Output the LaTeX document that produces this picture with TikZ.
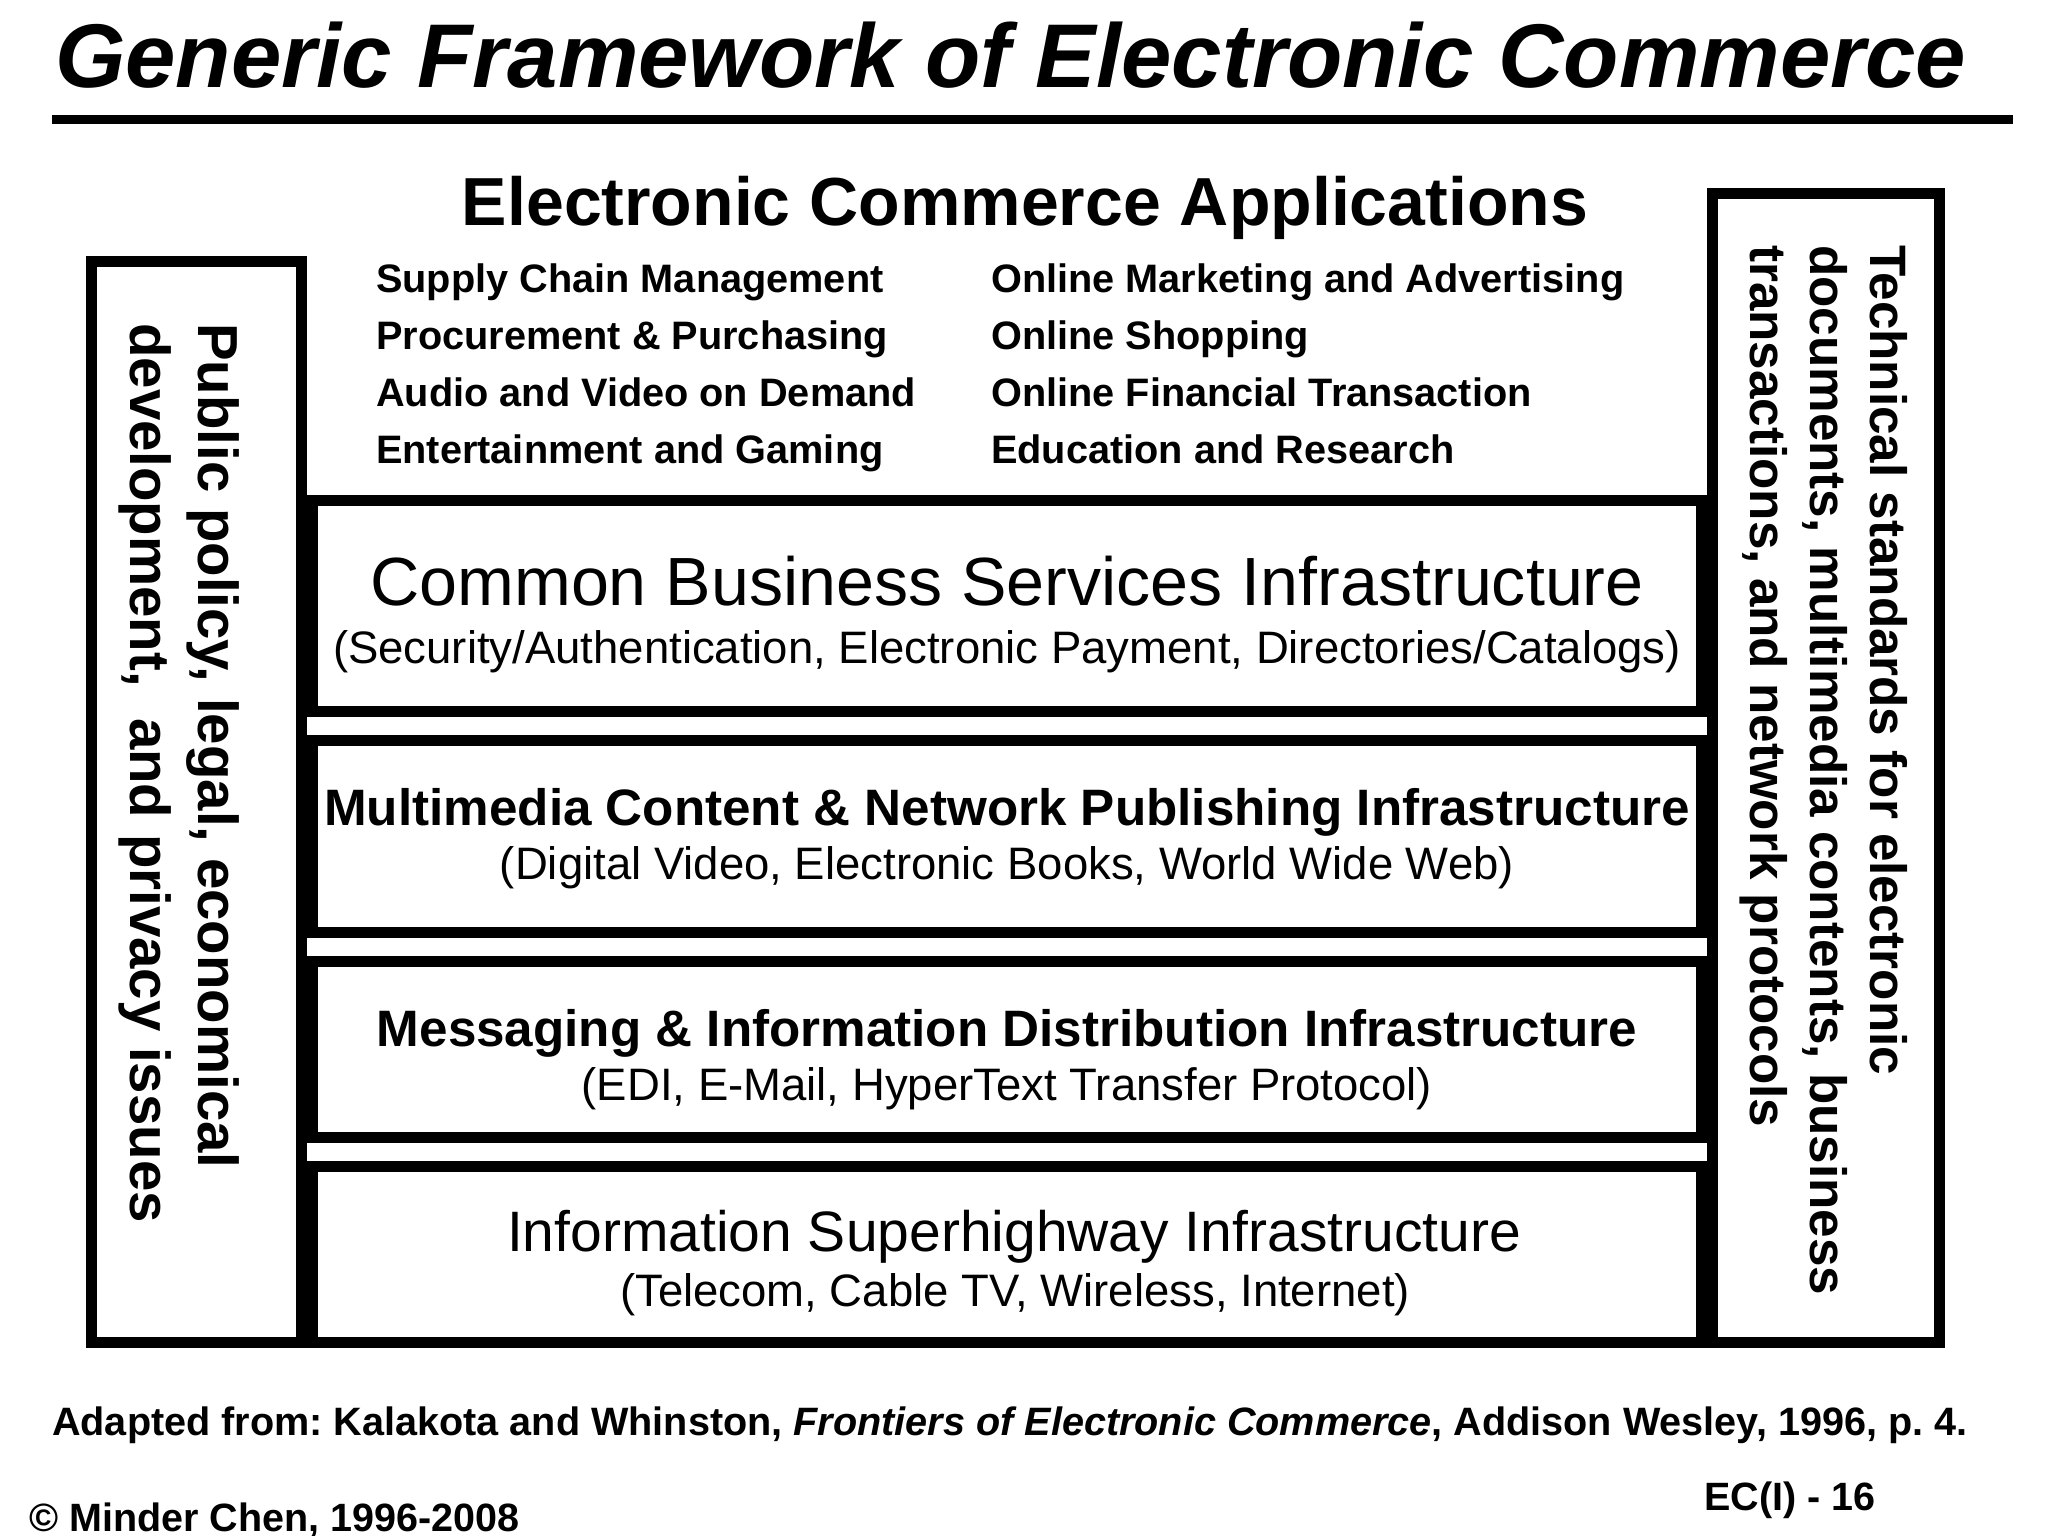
\documentclass[tikz,border=0pt]{standalone}
\usepackage{fontspec}
\setmainfont{Liberation Sans}
\usepackage{xcolor}
\frenchspacing

\begin{document}
\begin{tikzpicture}[x=1pt,y=1pt,yscale=-1,xscale=1,
  frame/.style={line width=11pt},
  apptext/.style={anchor=base west,inner sep=0pt,font=\fontsize{39.7}{47}\selectfont\bfseries},
  layermain/.style={anchor=base,inner sep=0pt,font=\fontsize{68.2}{80}\selectfont},
  layerbold/.style={anchor=base,inner sep=0pt,font=\fontsize{51.2}{61}\selectfont\bfseries},
  layersub/.style={anchor=base,inner sep=0pt,font=\fontsize{45.5}{54}\selectfont},
  sidetext/.style={anchor=base west,inner sep=0pt,rotate=-90},
  foottext/.style={anchor=base west,inner sep=0pt,font=\fontsize{39.5}{47}\selectfont\bfseries}]
\path[use as bounding box] (0,0) rectangle (2048,1536);

% Text Node
\draw (55,88) node (title) [anchor=base west,inner sep=0pt,font=\fontsize{90.5}{108}\selectfont\bfseries\itshape] {Generic Framework of Electronic Commerce};
%Straight Lines
\draw [line width=9pt] (52,119.5) -- (2013,119.5) ;

%Shape: Rectangle (left side)
\draw [frame] (91.5,261.5) -- (301.5,261.5) -- (301.5,1342.5) -- (91.5,1342.5) -- cycle ;
%Shape: Rectangle (right side)
\draw [frame] (1712.5,193.5) -- (1939.5,193.5) -- (1939.5,1342.5) -- (1712.5,1342.5) -- cycle ;
%Shape: Rectangle (common business)
\draw [frame] (312.5,500.5) -- (1701.5,500.5) -- (1701.5,711.5) -- (312.5,711.5) -- cycle ;
%Shape: Rectangle (multimedia)
\draw [frame] (312.5,740.5) -- (1701.5,740.5) -- (1701.5,932.5) -- (312.5,932.5) -- cycle ;
%Shape: Rectangle (messaging)
\draw [frame] (312.5,961.5) -- (1701.5,961.5) -- (1701.5,1137.5) -- (312.5,1137.5) -- cycle ;
%Shape: Rectangle (superhighway)
\draw [frame] (312.5,1166.5) -- (1701.5,1166.5) -- (1701.5,1342.5) -- (312.5,1342.5) -- cycle ;

% Text Node
\draw (1025,225) node (apps) [anchor=base,inner sep=0pt,font=\fontsize{68}{80}\selectfont\bfseries] {Electronic Commerce Applications};
% Text Node
\draw (376,292) node (scm) [apptext] {Supply Chain Management};
% Text Node
\draw (376,349) node (proc) [apptext] {Procurement \& Purchasing};
% Text Node
\draw (376,406) node (avod) [apptext] {Audio and Video on Demand};
% Text Node
\draw (376,463) node (game) [apptext] {Entertainment and Gaming};
% Text Node
\draw (991,292) node (mkt) [apptext] {Online Marketing and Advertising};
% Text Node
\draw (991,349) node (shop) [apptext] {Online Shopping};
% Text Node
\draw (991,406) node (fin) [apptext] {Online Financial Transaction};
% Text Node
\draw (991,463) node (edu) [apptext] {Education and Research};

% Text Node
\draw (1007,605) node (cbs) [layermain] {Common Business Services Infrastructure};
% Text Node
\draw (1007,663) node (cbssub) [layersub] {(Security/Authentication, Electronic Payment, Directories/Catalogs)};
% Text Node
\draw (1007,825) node (mcn) [layerbold] {Multimedia Content \& Network Publishing Infrastructure};
% Text Node
\draw (1007,879) node (mcnsub) [layersub] {(Digital Video, Electronic Books, World Wide Web)};
% Text Node
\draw (1007,1046) node (mid) [layerbold] {Messaging \& Information Distribution Infrastructure};
% Text Node
\draw (1007,1100) node (midsub) [layersub] {(EDI, E-Mail, HyperText Transfer Protocol)};
% Text Node
\draw (1014,1251) node (ish) [layermain,font=\fontsize{57}{68}\selectfont] {Information Superhighway Infrastructure};
% Text Node
\draw (1015,1306) node (ishsub) [layersub] {(Telecom, Cable TV, Wireless, Internet)};

% Text Node
\draw (198,323) node (policy) [sidetext,font=\fontsize{56.4}{67}\selectfont\bfseries] {Public policy, legal, economical};
% Text Node
\draw (130,323) node (privacy) [sidetext,font=\fontsize{56.4}{67}\selectfont\bfseries] {development,\ \ and privacy issues};
% Text Node
\draw (1870,245) node (tech) [sidetext,font=\fontsize{51.2}{61}\selectfont\bfseries] {Technical standards for electronic};
% Text Node
\draw (1810,245) node (docs) [sidetext,font=\fontsize{51.2}{61}\selectfont\bfseries] {documents, multimedia contents, business};
% Text Node
\draw (1750,245) node (proto) [sidetext,font=\fontsize{51.2}{61}\selectfont\bfseries] {transactions, and network protocols};

% Text Node
\draw (52,1435) node (source) [foottext,font=\fontsize{39.6}{48}\selectfont\bfseries] {Adapted from: Kalakota and Whinston, \textit{Frontiers of Electronic Commerce}, Addison Wesley, 1996, p. 4.};
% Text Node
\draw (1704,1510) node (slide) [foottext] {EC(I) - 16};
% Text Node
\draw (29,1531) node (copy) [foottext] {© Minder Chen, 1996-2008};

\end{tikzpicture}
\end{document}
